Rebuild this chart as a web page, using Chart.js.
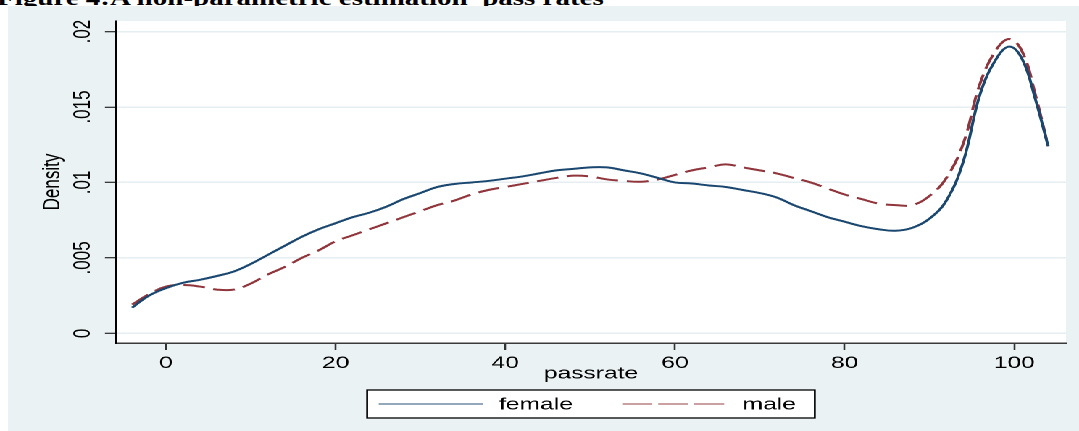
<!DOCTYPE html>
<html>
<head>
<meta charset="utf-8">
<script src="https://cdn.jsdelivr.net/npm/chart.js@4/dist/chart.umd.min.js"></script>
<style>
  html, body { margin: 0; padding: 0; background: #fff; }
  body { width: 1079px; height: 431px; overflow: hidden; position: relative; }
  .title-strip { position: absolute; left: 0; top: 0; width: 1079px; height: 6px; overflow: hidden; }
  .fig-title {
    position: absolute; left: -3px; top: -12px; white-space: pre;
    font: bold 20px "Liberation Serif", "Times New Roman", serif; line-height: 20px; color: #000;
    transform: scaleX(1.45); transform-origin: 0 0;
  }
  /* the stata export is stretched sideways, so the chart is drawn narrow and widened */
  .graph {
    position: absolute; left: 8px; top: 6px; width: 739px; height: 425px;
    background: #eaf2f3; transform: scaleX(1.4493); transform-origin: 0 0;
  }
</style>
</head>
<body>
<div class="title-strip"><div class="fig-title">Figure 4:A non-parametric estimation  pass rates</div></div>
<div class="graph"><canvas id="kdens"></canvas></div>
<script>
// kernel density of pass rates
const passrate = [-4, -2, 0, 2, 4, 6, 8, 10, 12, 14, 16, 18, 20, 22, 24, 26, 28, 30, 32, 34, 36, 38, 40,
  42, 44, 46, 48, 50, 52, 54, 56, 58, 60, 62, 64, 66, 68, 70, 72, 74, 76, 78, 80, 82, 84, 86, 88,
  90, 92, 94, 96, 98, 99.5, 101, 102.5, 104];
const female = [0.0017, 0.0025, 0.0030, 0.00335, 0.00355, 0.0038, 0.0041, 0.0046, 0.0052, 0.0058, 0.0064, 0.0069, 0.0073,
  0.0077, 0.0080, 0.0084, 0.0089, 0.0093, 0.0097, 0.0099, 0.0100, 0.0101, 0.01025, 0.0104, 0.0106, 0.0108,
  0.0109, 0.0110, 0.0110, 0.0108, 0.0106, 0.0103, 0.0100, 0.00993, 0.0098, 0.0097, 0.0095, 0.0093, 0.0090,
  0.0085, 0.0081, 0.0077, 0.0074, 0.0071, 0.0069, 0.0068, 0.0070, 0.0076, 0.0088, 0.0114, 0.0159, 0.0183,
  0.0190, 0.0181, 0.0155, 0.0124];
const male = [0.0019, 0.0026, 0.0031, 0.0032, 0.0031, 0.0029, 0.0029, 0.0033, 0.0039, 0.0044, 0.0050, 0.0055, 0.0061,
  0.0065, 0.0069, 0.0073, 0.0077, 0.0081, 0.0085, 0.0088, 0.0092, 0.0095, 0.0097, 0.0099, 0.0101, 0.0103,
  0.01045, 0.0104, 0.0102, 0.0101, 0.01005, 0.0102, 0.0105, 0.0108, 0.0110, 0.0112, 0.0110, 0.0108, 0.0106,
  0.0103, 0.0100, 0.0096, 0.0092, 0.0089, 0.0086, 0.0085, 0.0085, 0.0091, 0.0103, 0.0126, 0.0166, 0.0189,
  0.0195, 0.0186, 0.0158, 0.0124];
const xTicks = [0, 20, 40, 60, 80, 100];
const yTicks = [0, 0.005, 0.01, 0.015, 0.02];
const yTickLabels = ['0', '.005', '.01', '.015', '.02'];

const NAVY = '#1a476f';
const MAROON = '#90353b';
const FONT = '"Liberation Sans", Arial, sans-serif';

Chart.defaults.font.family = FONT;
Chart.defaults.font.size = 17;
Chart.defaults.color = '#000';

const toPoints = ys => passrate.map((x, i) => ({ x, y: ys[i] }));

// white plot region, rotated y labels, boxed legend (stata style)
const stataFrame = {
  id: 'stataFrame',
  beforeDraw(chart) {
    const { ctx, chartArea: a } = chart;
    ctx.save();
    ctx.fillStyle = '#fff';
    ctx.fillRect(a.left, a.top, a.right - a.left, a.bottom - a.top);
    ctx.restore();
  },
  afterDraw(chart) {
    const { ctx, chartArea: a } = chart;
    const ys = chart.scales.y;
    ctx.save();
    ctx.fillStyle = '#000';
    ctx.font = '17px ' + FONT;
    ctx.textAlign = 'center';
    ctx.textBaseline = 'middle';
    yTicks.forEach((v, i) => {
      ctx.save();
      ctx.translate(51, ys.getPixelForValue(v));
      ctx.rotate(-Math.PI / 2);
      ctx.fillText(yTickLabels[i], 0, 1);
      ctx.restore();
    });

    // legend
    const sets = chart.data.datasets;
    const widths = sets.map(d => ctx.measureText(d.label).width);
    const lineLen = 72, gapText = 11, gapItem = 34, padL = 8, padR = 13;
    const total = padL + sets.length * (lineLen + gapText) + widths.reduce((s, w) => s + w, 0) + gapItem * (sets.length - 1) + padR;
    const left = (a.left + a.right) / 2 - total / 2;
    const cy = 398;
    ctx.fillStyle = '#fff';
    ctx.fillRect(left, cy - 14, total, 28);
    ctx.strokeStyle = '#000';
    ctx.lineWidth = 1.3;
    ctx.strokeRect(left, cy - 14, total, 28);
    let x = left + padL;
    sets.forEach((d, i) => {
      ctx.beginPath();
      ctx.strokeStyle = d.borderColor;
      ctx.globalAlpha = 0.75;
      ctx.lineWidth = 1.3;
      ctx.setLineDash(d.legendDash || []);
      ctx.moveTo(x, cy);
      ctx.lineTo(x + lineLen, cy);
      ctx.stroke();
      ctx.setLineDash([]);
      ctx.globalAlpha = 1;
      x += lineLen + gapText;
      ctx.fillStyle = '#000';
      ctx.textAlign = 'left';
      ctx.fillText(d.label, x, cy + 1);
      x += widths[i] + gapItem;
    });
    ctx.restore();
  }
};

new Chart(document.getElementById('kdens'), {
  type: 'line',
  data: {
    datasets: [{
      label: 'female',
      data: toPoints(female),
      borderColor: NAVY,
      borderWidth: 2,
      pointRadius: 0,
      tension: 0.4,
      fill: false
    }, {
      label: 'male',
      data: toPoints(male),
      borderColor: MAROON,
      borderWidth: 2,
      borderDash: [15, 6],
      legendDash: [20.7, 4.1],
      pointRadius: 0,
      tension: 0.4,
      fill: false
    }]
  },
  options: {
    responsive: true,
    maintainAspectRatio: false,
    animation: false,
    devicePixelRatio: 2,
    layout: { padding: { left: 0, top: 15, right: 9, bottom: 46.8 } },
    plugins: { legend: { display: false }, tooltip: { enabled: false } },
    scales: {
      x: {
        type: 'linear',
        min: -5.9, max: 106.1,
        afterBuildTicks: s => { s.ticks = xTicks.map(v => ({ value: v })); },
        afterFit: s => { s.height = 41.2; },
        ticks: { padding: 3, color: '#000', font: { size: 17 } },
        grid: { drawOnChartArea: false, drawTicks: true, tickLength: 7, tickColor: '#333', tickWidth: 1.3 },
        border: { display: true, color: '#3a3a3a', width: 1.5 },
        title: { display: true, text: 'passrate', color: '#000', font: { size: 17 }, padding: 0 }
      },
      y: {
        min: -0.00064, max: 0.0207,
        afterBuildTicks: s => { s.ticks = yTicks.map(v => ({ value: v })); },
        afterFit: s => { s.width = 74.5; },
        ticks: { display: false },
        grid: { color: '#e6eef1', lineWidth: 1.5, drawTicks: true, tickLength: 7.6, tickColor: '#000', tickWidth: 1 },
        border: { display: true, color: '#000', width: 1.2 },
        title: { display: true, text: 'Density', color: '#000', font: { size: 17 }, padding: { top: 20.8, bottom: 0 } }
      }
    }
  },
  plugins: [stataFrame]
});
</script>
</body>
</html>
